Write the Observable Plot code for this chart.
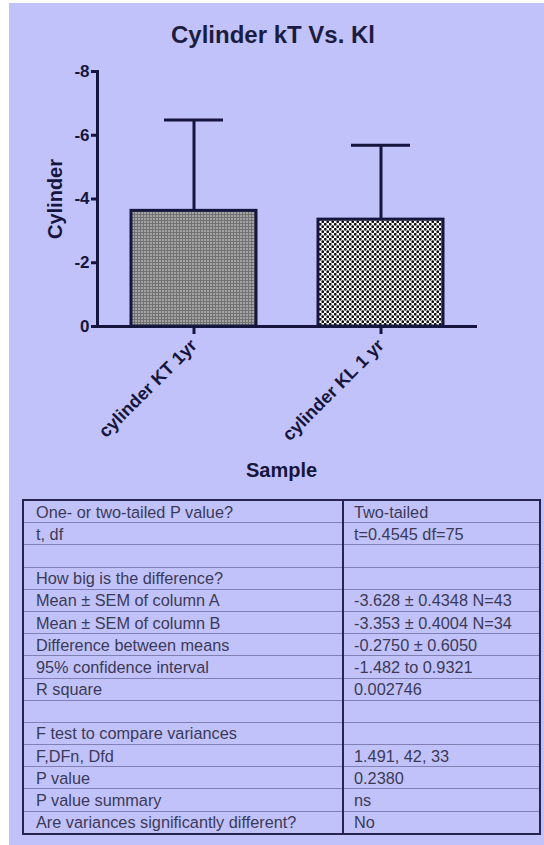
<!DOCTYPE html>
<html>
<head>
<meta charset="utf-8">
<script src="https://cdn.jsdelivr.net/npm/d3@7"></script>
<script src="https://cdn.jsdelivr.net/npm/@observablehq/plot@0.6"></script>
<style>
  body { margin: 0; background: #ffffff; font-family: Arial, "Liberation Sans", sans-serif; }
  #panel { position: absolute; left: 9px; top: 3px; width: 535px; height: 842px; background: #c2c2fa; overflow: hidden; }
  #title { position: absolute; left: 0; top: 18px; width: 528px; text-align: center; font-weight: bold; font-size: 24px; line-height: 28px; color: #1c1c40; }
  #chart { position: absolute; left: 0; top: 50px; }
  #stats { position: absolute; left: 13px; top: 496px; width: 517px; border-collapse: collapse; border: 2px solid #25254f; font-size: 16.3px; color: #3a3a58; table-layout: fixed; }
  #stats td { height: 21.2px; padding: 0 0 0 12px; border-top: 1px solid #8080b4; line-height: 18px; white-space: nowrap; overflow: hidden; vertical-align: middle; }
  #stats td.v { border-left: 2px solid #25254f; padding-left: 10px; }
</style>
</head>
<body>
<div id="panel">
  <div id="title"></div>
  <div id="chart"></div>
  <table id="stats"><colgroup><col style="width:320px"><col style="width:197px"></colgroup><tbody></tbody></table>
</div>
<script>
const chartTitle = "Cylinder kT Vs. Kl";
const samples = ["cylinder KT 1yr", "cylinder KL 1 yr"];
const means = [-3.628, -3.353];
const sds = [2.851, 2.335];
const patterns = ["url(#patKT)", "url(#patKL)"];
const yTicks = [0, -2, -4, -6, -8];
const yLabel = "Cylinder";
const xLabel = "Sample";

const statLabels = [
  "One- or two-tailed P value?",
  "t, df",
  "",
  "How big is the difference?",
  "Mean ± SEM of column A",
  "Mean ± SEM of column B",
  "Difference between means",
  "95% confidence interval",
  "R square",
  "",
  "F test to compare variances",
  "F,DFn, Dfd",
  "P value",
  "P value summary",
  "Are variances significantly different?"
];
const statValues = [
  "Two-tailed",
  "t=0.4545 df=75",
  "",
  "",
  "-3.628 ± 0.4348 N=43",
  "-3.353 ± 0.4004 N=34",
  "-0.2750 ± 0.6050",
  "-1.482 to 0.9321",
  "0.002746",
  "",
  "",
  "1.491, 42, 33",
  "0.2380",
  "ns",
  "No"
];

const navy = "#15153d";
const data = samples.map((s, i) => ({sample: s, mean: means[i], top: means[i] - sds[i], pat: patterns[i]}));

function defs() {
  const d = d3.create("svg:defs");
  const p1 = d.append("pattern").attr("id", "patKT").attr("patternUnits", "userSpaceOnUse").attr("width", 3).attr("height", 3);
  p1.append("rect").attr("width", 3).attr("height", 3).attr("fill", "#727272");
  p1.append("rect").attr("width", 2).attr("height", 2).attr("fill", "#a4a4a4");
  const p2 = d.append("pattern").attr("id", "patKL").attr("patternUnits", "userSpaceOnUse").attr("width", 5).attr("height", 5);
  p2.append("rect").attr("width", 5).attr("height", 5).attr("fill", "#ffffff");
  p2.append("circle").attr("cx", 1.25).attr("cy", 1.25).attr("r", 1.4).attr("fill", "#111111");
  p2.append("circle").attr("cx", 3.75).attr("cy", 3.75).attr("r", 1.4).attr("fill", "#111111");
  return d.node();
}

document.getElementById("title").textContent = chartTitle;

const chart = Plot.plot({
  width: 535,
  height: 440,
  marginTop: 18,
  marginBottom: 167,
  marginLeft: 88,
  marginRight: 67,
  style: {fontFamily: "Arial, 'Liberation Sans', sans-serif", background: "transparent", color: navy, overflow: "visible"},
  x: {domain: samples, paddingInner: 0.33, paddingOuter: 0.18},
  y: {domain: [0, -8]},
  color: {type: "identity"},
  marks: [
    defs,
    Plot.barY(data, {x: "sample", y1: 0, y2: "mean", fill: d => d.pat, stroke: navy, strokeWidth: 3}),
    Plot.ruleX(data, {x: "sample", y1: "mean", y2: "top", stroke: navy, strokeWidth: 3}),
    Plot.tickY(data, {x: "sample", y: "top", stroke: navy, strokeWidth: 3, insetLeft: 33, insetRight: 33}),
    Plot.ruleY([0], {stroke: navy, strokeWidth: 3}),
    Plot.frame({anchor: "left", stroke: navy, strokeWidth: 3}),
    Plot.axisY({ticks: yTicks, tickFormat: d => String(d), tickSize: 6, tickPadding: 2, fontSize: 17, fontWeight: "bold", color: navy, strokeWidth: 3, label: null}),
    Plot.axisX({tickSize: 8, tickRotate: -45, tickPadding: 8, fontSize: 18, fontWeight: "bold", color: navy, strokeWidth: 3, label: null}),
    Plot.text([yLabel], {frameAnchor: "left", textAnchor: "middle", rotate: -90, dx: -42, fontSize: 20, fontWeight: "bold", fill: navy}),
    Plot.text([xLabel], {frameAnchor: "bottom", textAnchor: "middle", dx: -6, dy: 150, fontSize: 20, fontWeight: "bold", fill: navy})
  ]
});
document.getElementById("chart").appendChild(chart);

const tbody = document.querySelector("#stats tbody");
statLabels.forEach((lab, i) => {
  const tr = document.createElement("tr");
  const a = document.createElement("td");
  a.textContent = lab;
  const b = document.createElement("td");
  b.className = "v";
  b.textContent = statValues[i];
  tr.appendChild(a); tr.appendChild(b);
  tbody.appendChild(tr);
});
</script>
</body>
</html>
